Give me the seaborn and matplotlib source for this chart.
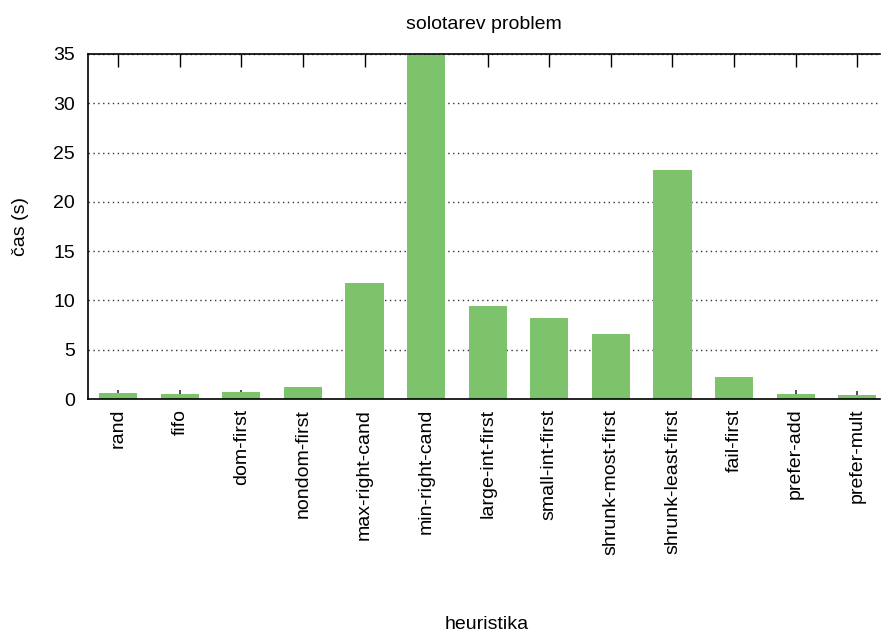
import matplotlib
matplotlib.use("Agg")
import matplotlib.pyplot as plt
import seaborn as sns
import pandas as pd

heuristics = ["rand", "fifo", "dom-first", "nondom-first", "max-right-cand",
              "min-right-cand", "large-int-first", "small-int-first",
              "shrunk-most-first", "shrunk-least-first", "fail-first",
              "prefer-add", "prefer-mult"]
times = [0.63, 0.53, 0.7, 1.2, 11.8, 34.85, 9.43, 8.25, 6.6, 23.2, 2.26, 0.53, 0.43]
errors = [0.3, 0.35, 0.25, 0.0, 0.0, 0.0, 0.0, 0.0, 0.0, 0.0, 0.0, 0.35, 0.4]

sns.set_theme(style="white")
plt.rcParams["font.family"] = ["Liberation Sans", "DejaVu Sans"]

df = pd.DataFrame({"heuristika": heuristics, "cas": times})

fs = 14
fig = plt.figure(figsize=(8.81, 6.36), dpi=100)
ax = fig.add_axes([88 / 881, 1 - 399 / 636, 792 / 881, 345 / 636])

ax.errorbar(range(len(heuristics)), times, yerr=errors, fmt="none",
            ecolor="#333333", elinewidth=1.2, capsize=0, zorder=1)
sns.barplot(data=df, x="heuristika", y="cas", color="#7cc36c", saturation=1,
            width=0.62, ax=ax, zorder=2, edgecolor="none")

ax.set_xlim(-0.49, 12.37)
ax.set_ylim(0, 35)
ax.set_yticks(range(0, 36, 5))
ax.yaxis.grid(True, linestyle=(0, (1, 2.5)), color="#333333", linewidth=1.0)
ax.set_axisbelow(True)

for s in ["left", "bottom", "top"]:
    ax.spines[s].set_visible(True)
    ax.spines[s].set_color("black")
    ax.spines[s].set_linewidth(1.2)
ax.spines["right"].set_visible(False)

ax.tick_params(axis="y", direction="in", length=0, labelsize=fs, pad=9.5,
               colors="black")
ax.tick_params(axis="x", which="both", bottom=False, top=True, direction="in",
               length=9, width=1, labelsize=fs, pad=7, labelrotation=90,
               colors="black")
ax.tick_params(axis="x", labelbottom=True, labeltop=False)
for lbl in ax.get_xticklabels():
    lbl.set_verticalalignment("top")
    lbl.set_horizontalalignment("center")

ax.set_xlabel("heuristika", fontsize=fs, color="black", labelpad=0)
ax.xaxis.set_label_coords((487 - 88) / 792, -217 / 345)
ax.set_ylabel("čas (s)", fontsize=fs, color="black")
ax.yaxis.set_label_coords(-59 / 792, 0.5)
ax.set_title("solotarev problem", fontsize=fs, color="black", pad=18)

fig.savefig("out.png", dpi=100)
